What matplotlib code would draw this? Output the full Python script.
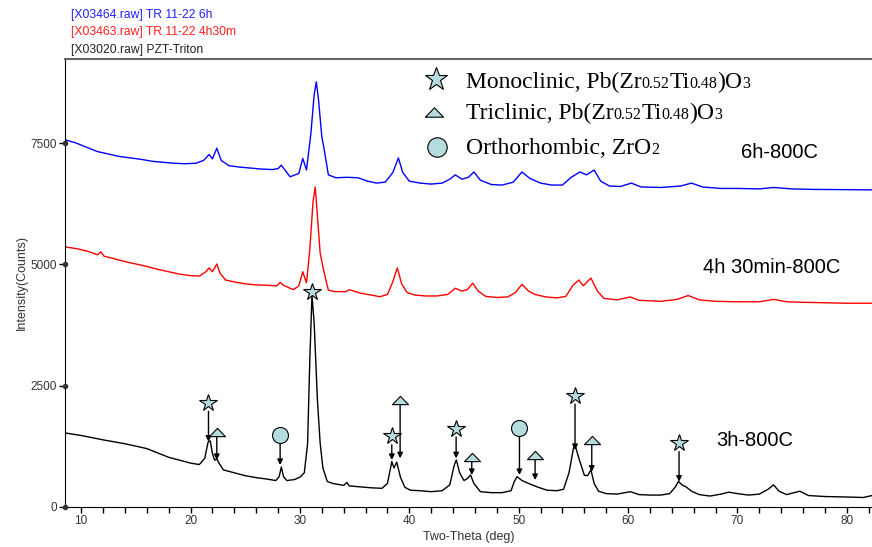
import matplotlib
matplotlib.use('Agg')
import matplotlib.pyplot as plt
from matplotlib.ticker import MultipleLocator

# two-theta / counts, one pair of lists per scan
black_x = [8.6, 10, 12, 14, 16, 17, 18, 19, 20, 20.8, 21.3, 21.6, 21.8, 22.0, 22.2, 22.4, 22.6, 23, 24, 25,
           26, 27, 27.8, 28.1, 28.3, 28.5, 28.8, 29.5, 30.0, 30.4, 30.7, 30.9, 31.1, 31.3, 31.6, 31.85, 32.1,
           32.5, 33, 34, 34.3, 34.5, 35.5, 36.5, 37.5, 38.0, 38.4, 38.6, 38.85, 39.2, 39.6, 40.1, 41, 42, 43,
           43.7, 44.1, 44.3, 44.6, 45.0, 45.3, 45.6, 45.9, 46.5, 47.5, 48.5, 49.3, 49.6, 49.85, 50.3, 51.0,
           51.8, 52.6, 53.5, 54.1, 54.6, 55.0, 55.15, 55.5, 56.0, 56.3, 56.6, 56.9, 57.3, 58, 59, 60.2, 61,
           62, 63, 63.8, 64.3, 64.6, 65.0, 65.3, 65.8, 66.5, 67.5, 68.5, 69.2, 70, 71, 72, 72.8, 73.3, 73.8,
           74.5, 75.7, 76.5, 78, 80, 81.5, 82.3]
black_y = [1520, 1470, 1380, 1300, 1200, 1110, 1020, 960, 900, 870, 1000, 1330, 1360, 1100, 960, 990, 900, 760,
           700, 640, 600, 570, 540, 620, 820, 620, 540, 560, 610, 700, 1300, 3000, 4360, 3800, 2200, 1310, 800,
           520, 480, 440, 500, 430, 410, 390, 380, 480, 930, 800, 920, 600, 400, 340, 330, 310, 330,
           450, 850, 965, 700, 540, 580, 655, 480, 310, 290, 290, 330, 520, 620, 540, 470,
           400, 340, 330, 360, 700, 1200, 1275, 1000, 650, 640, 760, 480, 320, 270, 260, 310, 250,
           240, 240, 270, 400, 520, 440, 410, 320, 250, 220, 260, 300, 270, 240, 260, 360, 450, 320,
           250, 320, 230, 210, 200, 190, 230]

red_x = [8.6, 9.5, 10.5, 11.5, 11.8, 12.1, 13, 14, 15, 16, 17, 18, 19, 20, 20.8, 21.4, 21.7, 22.0, 22.4, 22.7,
         23.2, 24, 25, 26, 27, 27.9, 28.2, 28.5, 29.4, 29.9, 30.26, 30.6, 30.9, 31.2, 31.4, 31.6, 31.85, 32.1,
         32.3, 32.6, 33.2, 34.2, 34.5, 35.5, 36.5, 37.3, 38.0, 38.5, 38.9, 39.3, 39.8, 40.5, 41.5, 42.5, 43.5,
         44.2, 44.8, 45.3, 45.8, 46.3, 47, 48, 49, 49.7, 50.3, 50.9, 51.5, 52.5, 53.5, 54.3, 55.0, 55.5, 55.9,
         56.6, 57.2, 57.8, 59, 60.2, 61, 63, 64.5, 65.5, 66.5, 68, 70, 72, 73.3, 74.5, 76, 78, 80, 82.3]
red_y = [5360, 5330, 5280, 5200, 5260, 5170, 5120, 5060, 5010, 4960, 4900, 4850, 4800, 4770, 4760, 4850, 4930,
         4850, 5010, 4820, 4680, 4640, 4600, 4580, 4570, 4560, 4630, 4570, 4480, 4560, 4850, 4620, 5300, 6300,
         6600, 6000, 5235, 4950, 4750, 4470, 4440, 4440, 4480, 4410, 4370, 4335, 4380, 4650, 4930, 4600, 4420,
         4370, 4350, 4350, 4380, 4510, 4450, 4480, 4615, 4450, 4340, 4320, 4330, 4420, 4590, 4450, 4380, 4330,
         4310, 4340, 4580, 4680, 4560, 4720, 4450, 4300, 4270, 4330, 4260, 4240, 4280, 4360, 4270, 4240, 4230,
         4230, 4280, 4230, 4220, 4210, 4200, 4200]

blue_x = [8.6, 9.5, 10.5, 11.5, 12.5, 13.5, 14.5, 15.5, 16.5, 17.5, 18.5, 19.5, 20.5, 21.2, 21.7, 22.0, 22.4,
          22.8, 23.5, 24.5, 25.5, 26.5, 27.5, 28.0, 28.3, 28.6, 29.1, 29.9, 30.26, 30.6, 31.0, 31.3, 31.5, 31.7,
          32.0, 32.2, 32.6, 33.3, 34.3, 35.3, 36.2, 37.0, 37.8, 38.5, 39.0, 39.4, 40, 41, 42, 43, 43.7, 44.2,
          44.8, 45.4, 45.9, 46.5, 47.5, 48.5, 49.5, 50.3, 51.0, 52, 53, 54, 54.8, 55.6, 56.2, 56.9, 57.5, 58.3,
          59.3, 60.3, 61.2, 63, 64.8, 65.8, 66.8, 68.5, 70, 72, 73.3, 75, 77, 80, 82.3]
blue_y = [7570, 7510, 7420, 7330, 7280, 7230, 7200, 7170, 7130, 7110, 7090, 7080, 7090, 7150, 7270, 7180, 7400,
          7150, 7040, 7010, 6990, 6970, 6960, 6980, 7050, 6960, 6810, 6880, 7190, 6950, 7700, 8500, 8770, 8400,
          7640, 7400, 6850, 6790, 6800, 6790, 6720, 6680, 6700, 6900, 7200, 6900, 6720, 6680, 6660, 6680, 6760,
          6850, 6760, 6800, 6910, 6740, 6650, 6640, 6700, 6910, 6780, 6680, 6640, 6640, 6800, 6910, 6850, 6950,
          6720, 6620, 6610, 6680, 6600, 6590, 6620, 6680, 6600, 6570, 6570, 6560, 6590, 6560, 6550, 6545, 6540]

scan_names = ['[X03464.raw] TR 11-22 6h', '[X03463.raw] TR 11-22 4h30m', '[X03020.raw] PZT-Triton']
scan_labels = ['6h-800C', '4h 30min-800C', '3h-800C']

# phase markers on the 3h scan: kind, two-theta, marker height, arrow tip
mark_kind = ['star', 'tri', 'circ', 'star', 'tri', 'star', 'tri', 'circ', 'tri', 'star', 'tri', 'star']
mark_x = [21.64, 22.40, 28.19, 38.40, 39.16, 44.28, 45.71, 50.07, 51.50, 55.15, 56.68, 64.66]
mark_y = [2140, 1550, 1480, 1450, 2210, 1610, 1030, 1630, 1060, 2290, 1370, 1310]
tip_y = [1342, 964, 861, 964, 999, 999, 654, 654, 550, 1170, 722, 516]
main_peak = (31.09, 4430)

phase_text = [
    [('Monoclinic, Pb(Zr', 17), ('0.52', 11.5), ('Ti', 17), ('0.48', 11.5), (')O', 17), ('3', 11.5)],
    [('Triclinic, Pb(Zr', 17), ('0.52', 11.5), ('Ti', 17), ('0.48', 11.5), (')O', 17), ('3', 11.5)],
    [('Orthorhombic, ZrO', 17), ('2', 11.5)],
]

W, H = 872, 547
fill = '#b4dcdf'
tri_verts = [(-1, -0.52), (1, -0.52), (0, 0.52), (-1, -0.52)]
styles = {
    'star': dict(marker='*', ms=13),
    'tri': dict(marker=tri_verts, ms=11.5),
    'circ': dict(marker='o', ms=11.5),
}
shrink = {'star': 6, 'tri': 3.2, 'circ': 6}

fig = plt.figure(figsize=(W / 100, H / 100), dpi=100)
ax = fig.add_axes([65.3 / W, 1 - 506.7 / H, 1 - 65.3 / W, (506.7 - 59) / H])

ax.plot(blue_x, blue_y, color='#0000ff', lw=1)
ax.plot(red_x, red_y, color='#ff0000', lw=1)
ax.plot(black_x, black_y, color='black', lw=1)

for k, x, y, t in zip(mark_kind, mark_x, mark_y, tip_y):
    ax.annotate('', xy=(x, t), xytext=(x, y),
                arrowprops=dict(arrowstyle='-|>', color='black', lw=1, mutation_scale=8,
                                shrinkA=shrink[k], shrinkB=0))
    ax.plot([x], [y], ls='none', mfc=fill, mec='black', mew=0.8, zorder=5, **styles[k])
ax.plot([main_peak[0]], [main_peak[1]], ls='none', mfc=fill, mec='black', mew=0.8, zorder=5,
        **styles['star'])

ax.set_xlim(8.55, 82.3)
ax.set_ylim(0, 9242)
ax.set_yticks([0, 2500, 5000, 7500])
ax.xaxis.set_major_locator(MultipleLocator(10))
ax.xaxis.set_minor_locator(MultipleLocator(2))
ax.tick_params(axis='both', which='both', direction='out', length=4, width=1, colors='black',
               labelsize=8.5, labelcolor='#333333', pad=2)
for lab in ax.get_xticklabels() + ax.get_yticklabels():
    lab.set_family('Liberation Sans')
ax.plot([8.55] * 4, [0, 2500, 5000, 7500], 'o', color='#333333', ms=3, clip_on=False, zorder=6)

ax.spines['right'].set_visible(False)
ax.spines['top'].set_color('#666666')
ax.spines['top'].set_linewidth(1.5)
ax.set_xlabel('Two-Theta (deg)', family='Liberation Sans', fontsize=9, color='#333333', labelpad=3)
ax.set_ylabel('Intensity(Counts)', family='Liberation Sans', fontsize=9, color='#333333', labelpad=2)

# scan names above the frame
for i, (name, c) in enumerate(zip(scan_names, ['#2020ff', '#ff2020', '#222222'])):
    fig.text(71 / W, 1 - (15 + 17.5 * i) / H, name, color=c, family='Liberation Sans',
             fontsize=8.7, va='center')

# curve labels
for lab, (px, py) in zip(scan_labels, [(741, 152), (703, 268), (716, 440)]):
    fig.text(px / W, 1 - py / H, lab, family='Liberation Sans', fontsize=14.5, va='center')

# phase key with small baseline subscripts
renderer = fig.canvas.get_renderer()
for parts, base in zip(phase_text, [88, 119, 154]):
    x = 466
    for s, size in parts:
        t = fig.text(x / W, 1 - base / H, s, family='Liberation Serif', fontsize=size, va='baseline')
        x = t.get_window_extent(renderer=renderer).x1
key_style = [('star', 436, 79, 17), ('tri', 434, 112, 13), ('circ', 437, 147, 14)]
for k, px, py, ms in key_style:
    st = dict(styles[k])
    st['ms'] = ms
    ax.plot([px / W], [1 - py / H], transform=fig.transFigure, ls='none', mfc=fill, mec='black',
            mew=0.8, clip_on=False, **st)

fig.savefig('out.png', dpi=100)
